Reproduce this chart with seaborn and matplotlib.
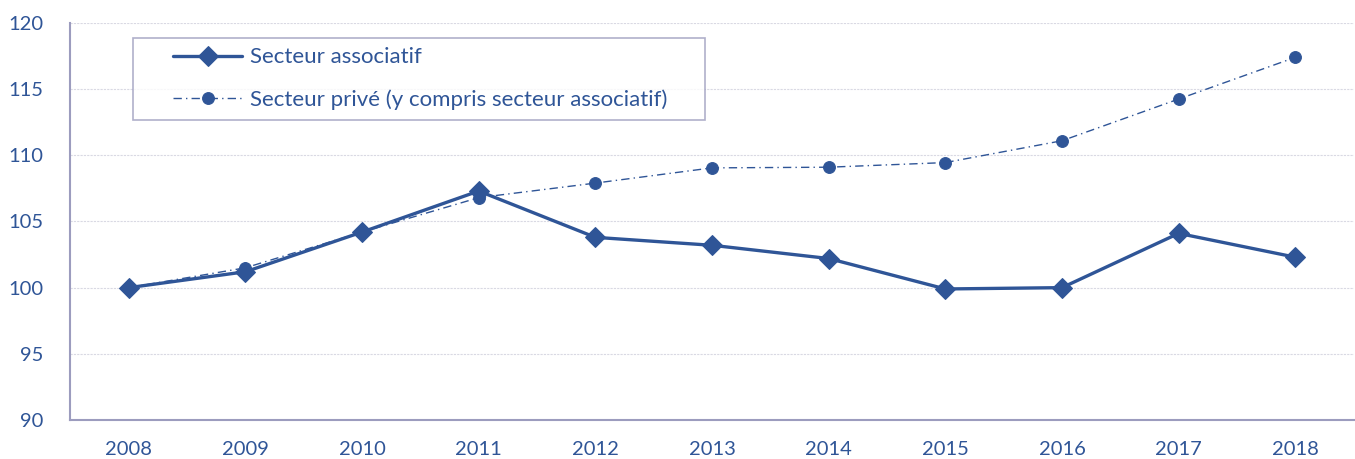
import pandas as pd
import matplotlib.pyplot as plt
import matplotlib.ticker as mticker
from matplotlib.legend_handler import HandlerLine2D
import seaborn as sns
import numpy as np

years = ["2008", "2009", "2010", "2011", "2012", "2013", "2014", "2015", "2016", "2017", "2018"]
associatif = [100.0, 101.2, 104.2, 107.3, 103.8, 103.2, 102.2, 99.9, 100.0, 104.1, 102.3]
prive = [100.0, 101.5, 104.2, 106.8, 107.9, 109.05, 109.1, 109.45, 111.1, 114.25, 117.4]

label_assoc = "Secteur associatif"
label_prive = "Secteur privé (y compris secteur associatif)"

blue = "#2F5597"
axis_col = "#9C9CBE"

sns.set_style("white")
plt.rcParams["font.family"] = ["Lato", "DejaVu Sans"]

pos = np.arange(len(years))
df = pd.DataFrame({"pos": pos, "assoc": associatif, "prive": prive})

fig = plt.figure(figsize=(13.55, 4.59), dpi=100)
ax = fig.add_axes([0.052, 0.085, 0.947, 0.865])

sns.lineplot(data=df, x="pos", y="assoc", ax=ax, color=blue, lw=2.4,
             marker="D", markersize=10, markeredgecolor=blue, label=label_assoc, zorder=3)
sns.lineplot(data=df, x="pos", y="prive", ax=ax, color=blue, lw=1.0,
             linestyle=(0, (6, 3, 1, 3)), marker="o", markersize=8.5,
             markeredgecolor=blue, label=label_prive, zorder=2)

ax.set_xlim(-0.5, len(years) - 0.5)
ax.set_ylim(90, 120)
ax.set_yticks(range(90, 121, 5))
ax.set_xticks(pos)
ax.set_xticklabels(years)
ax.xaxis.set_minor_locator(mticker.FixedLocator(np.arange(-0.5, len(years), 1.0)))
ax.tick_params(axis="x", which="major", length=0, pad=15, labelsize=14.5, labelcolor=blue)
ax.tick_params(axis="x", which="minor", length=15, direction="inout", color=axis_col, width=1)
ax.tick_params(axis="y", which="major", length=15, direction="inout", color=axis_col, width=1,
               labelsize=14.5, labelcolor=blue, pad=12)
ax.set_xlabel("")
ax.set_ylabel("")

ax.grid(axis="y", color="#D9D9E3", linestyle=(0, (2, 1)), lw=0.8)
ax.set_axisbelow(True)
for side in ["top", "right"]:
    ax.spines[side].set_visible(False)
for side in ["left", "bottom"]:
    ax.spines[side].set_color(axis_col)
    ax.spines[side].set_linewidth(1.5)

handles, labels = ax.get_legend_handles_labels()
leg = ax.legend(handles, labels, loc="upper left", bbox_to_anchor=(0.0487, 0.962, 0.446, 0),
                mode="expand", frameon=True, fancybox=False, fontsize=16, labelcolor=blue,
                handlelength=4.5, handletextpad=0.35, borderpad=0.42, labelspacing=1.0,
                borderaxespad=0,
                handler_map={h: HandlerLine2D(xpad=1.4) for h in handles})
leg.get_frame().set_edgecolor(axis_col)
leg.get_frame().set_linewidth(1.2)

fig.savefig("out.png", dpi=100)
